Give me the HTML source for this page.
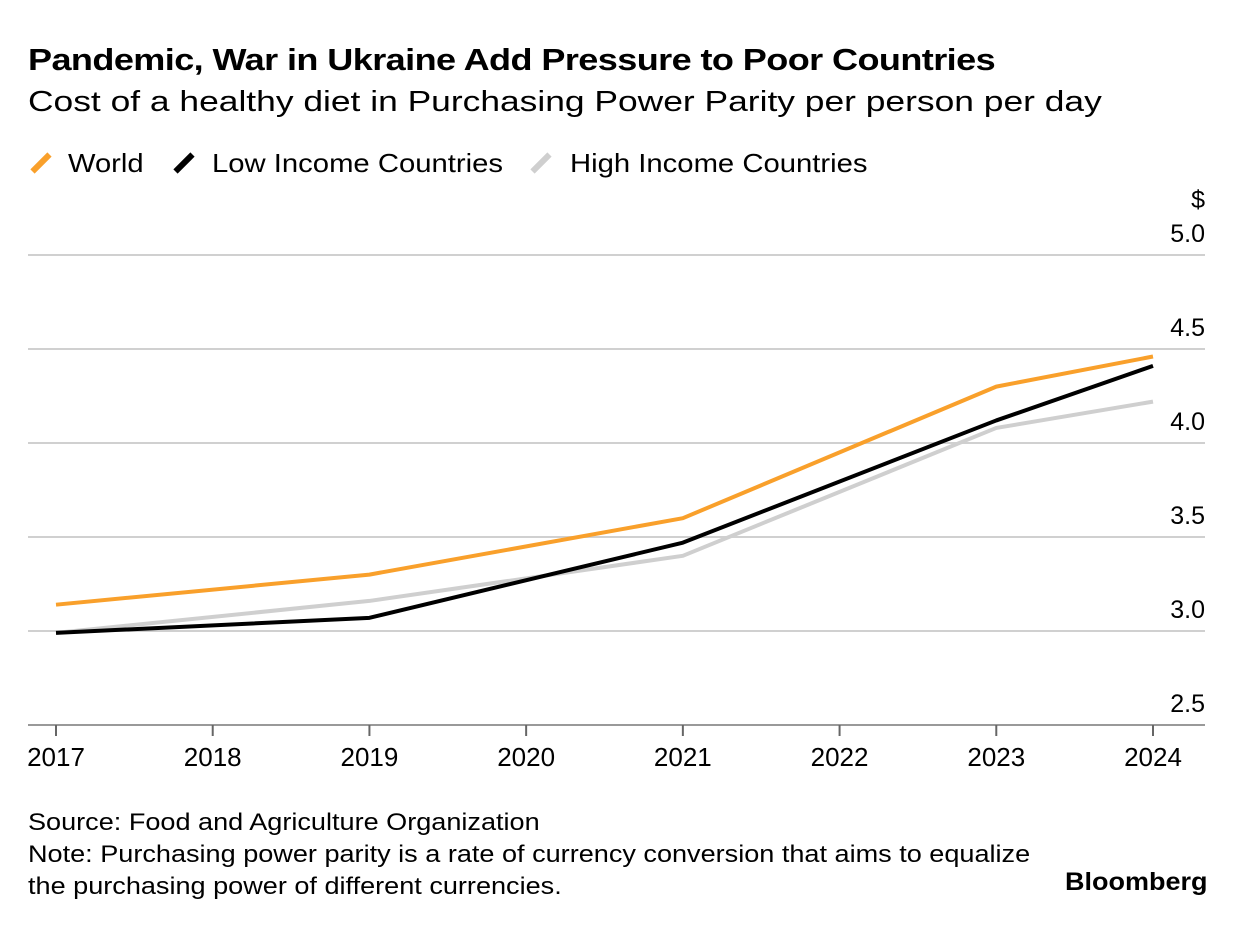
<!DOCTYPE html>
<html><head><meta charset="utf-8"><style>
body{margin:0;background:#fff;width:1237px;height:926px;overflow:hidden;font-family:"Liberation Sans",sans-serif;color:#000}
.t{position:absolute;white-space:nowrap;transform-origin:left top}
.mk{position:absolute;width:6px;height:24px;transform:rotate(45deg)}
</style></head><body>
<div class="t" style="left:28px;top:42px;font-size:31px;font-weight:bold;letter-spacing:-0.5px;transform:scaleX(1.163)">Pandemic, War in Ukraine Add Pressure to Poor Countries</div>
<div class="t" style="left:28px;top:86px;font-size:29px;transform:scaleX(1.22)">Cost of a healthy diet in Purchasing Power Parity per person per day</div>
<div>
<div class="mk" style="left:38px;top:151px;background:#f9a02b"></div>
<div class="t" style="left:68px;top:148px;font-size:26px;transform:scaleX(1.12)">World</div></div>
<div>
<div class="mk" style="left:181px;top:151px;background:#000"></div>
<div class="t" style="left:212px;top:148px;font-size:26px;transform:scaleX(1.125)">Low Income Countries</div></div>
<div>
<div class="mk" style="left:538px;top:151px;background:#cfcfcf"></div>
<div class="t" style="left:570px;top:148px;font-size:26px;transform:scaleX(1.125)">High Income Countries</div></div>
<svg id="c" width="1237" height="926" style="position:absolute;left:0;top:0"></svg>
<div class="t" style="left:28px;top:807px;font-size:24px;line-height:32px;transform:scaleX(1.128)">Source: Food and Agriculture Organization<br>Note: Purchasing power parity is a rate of currency conversion that aims to equalize<br>the purchasing power of different currencies.</div>
<div class="t" style="left:1065px;top:868px;font-size:25px;font-weight:bold;transform:scaleX(1.08)">Bloomberg</div>
<script>
const years=[2017,2018,2019,2020,2021,2022,2023,2024];
const yTicks=[2.5,3.0,3.5,4.0,4.5,5.0];
const world=[3.14,null,3.30,null,3.60,null,4.30,4.46];
const lowIncome=[2.99,null,3.07,null,3.47,null,4.12,4.41];
const highIncome=[2.99,null,3.16,null,3.40,null,4.08,4.22];
const svg=document.getElementById('c');const NS='http://www.w3.org/2000/svg';
const x=i=>56+(1153-56)*i/(years.length-1);
const y=v=>725-(v-2.5)*188;
function mk(t,a){const e=document.createElementNS(NS,t);for(const k in a)e.setAttribute(k,a[k]);svg.appendChild(e);return e;}
yTicks.forEach(v=>{
 const l=mk('line',{x1:28,x2:1205,y1:y(v),y2:y(v),stroke:v===2.5?'#999':'#d0d0d0','stroke-width':2});
 
 
 const t=mk('text',{x:1205,y:y(v)-13,'text-anchor':'end','font-size':25,'font-family':'Liberation Sans'});t.textContent=v.toFixed(1);
 
 
});
const d=mk('text',{x:1205,y:208,'text-anchor':'end','font-size':25,'font-family':'Liberation Sans'});d.textContent='$';


years.forEach((yr,i)=>{
 const tk=mk('line',{x1:x(i),x2:x(i),y1:725,y2:736,stroke:'#666','stroke-width':2});
 
 
 const t=mk('text',{x:x(i),y:766,'text-anchor':'middle','font-size':26,'font-family':'Liberation Sans'});t.textContent=yr;
 
 
});
function line(arr,col,name){
 const pts=arr.map((v,i)=>v==null?null:x(i)+','+y(v)).filter(p=>p);
 const p=mk('polyline',{points:pts.join(' '),fill:'none',stroke:col,'stroke-width':4,'stroke-linejoin':'round'});
 
 
}
line(highIncome,'#cfcfcf','line-high-income');
line(world,'#f9a02b','line-world');
line(lowIncome,'#000','line-low-income');
</script>
</body></html>
